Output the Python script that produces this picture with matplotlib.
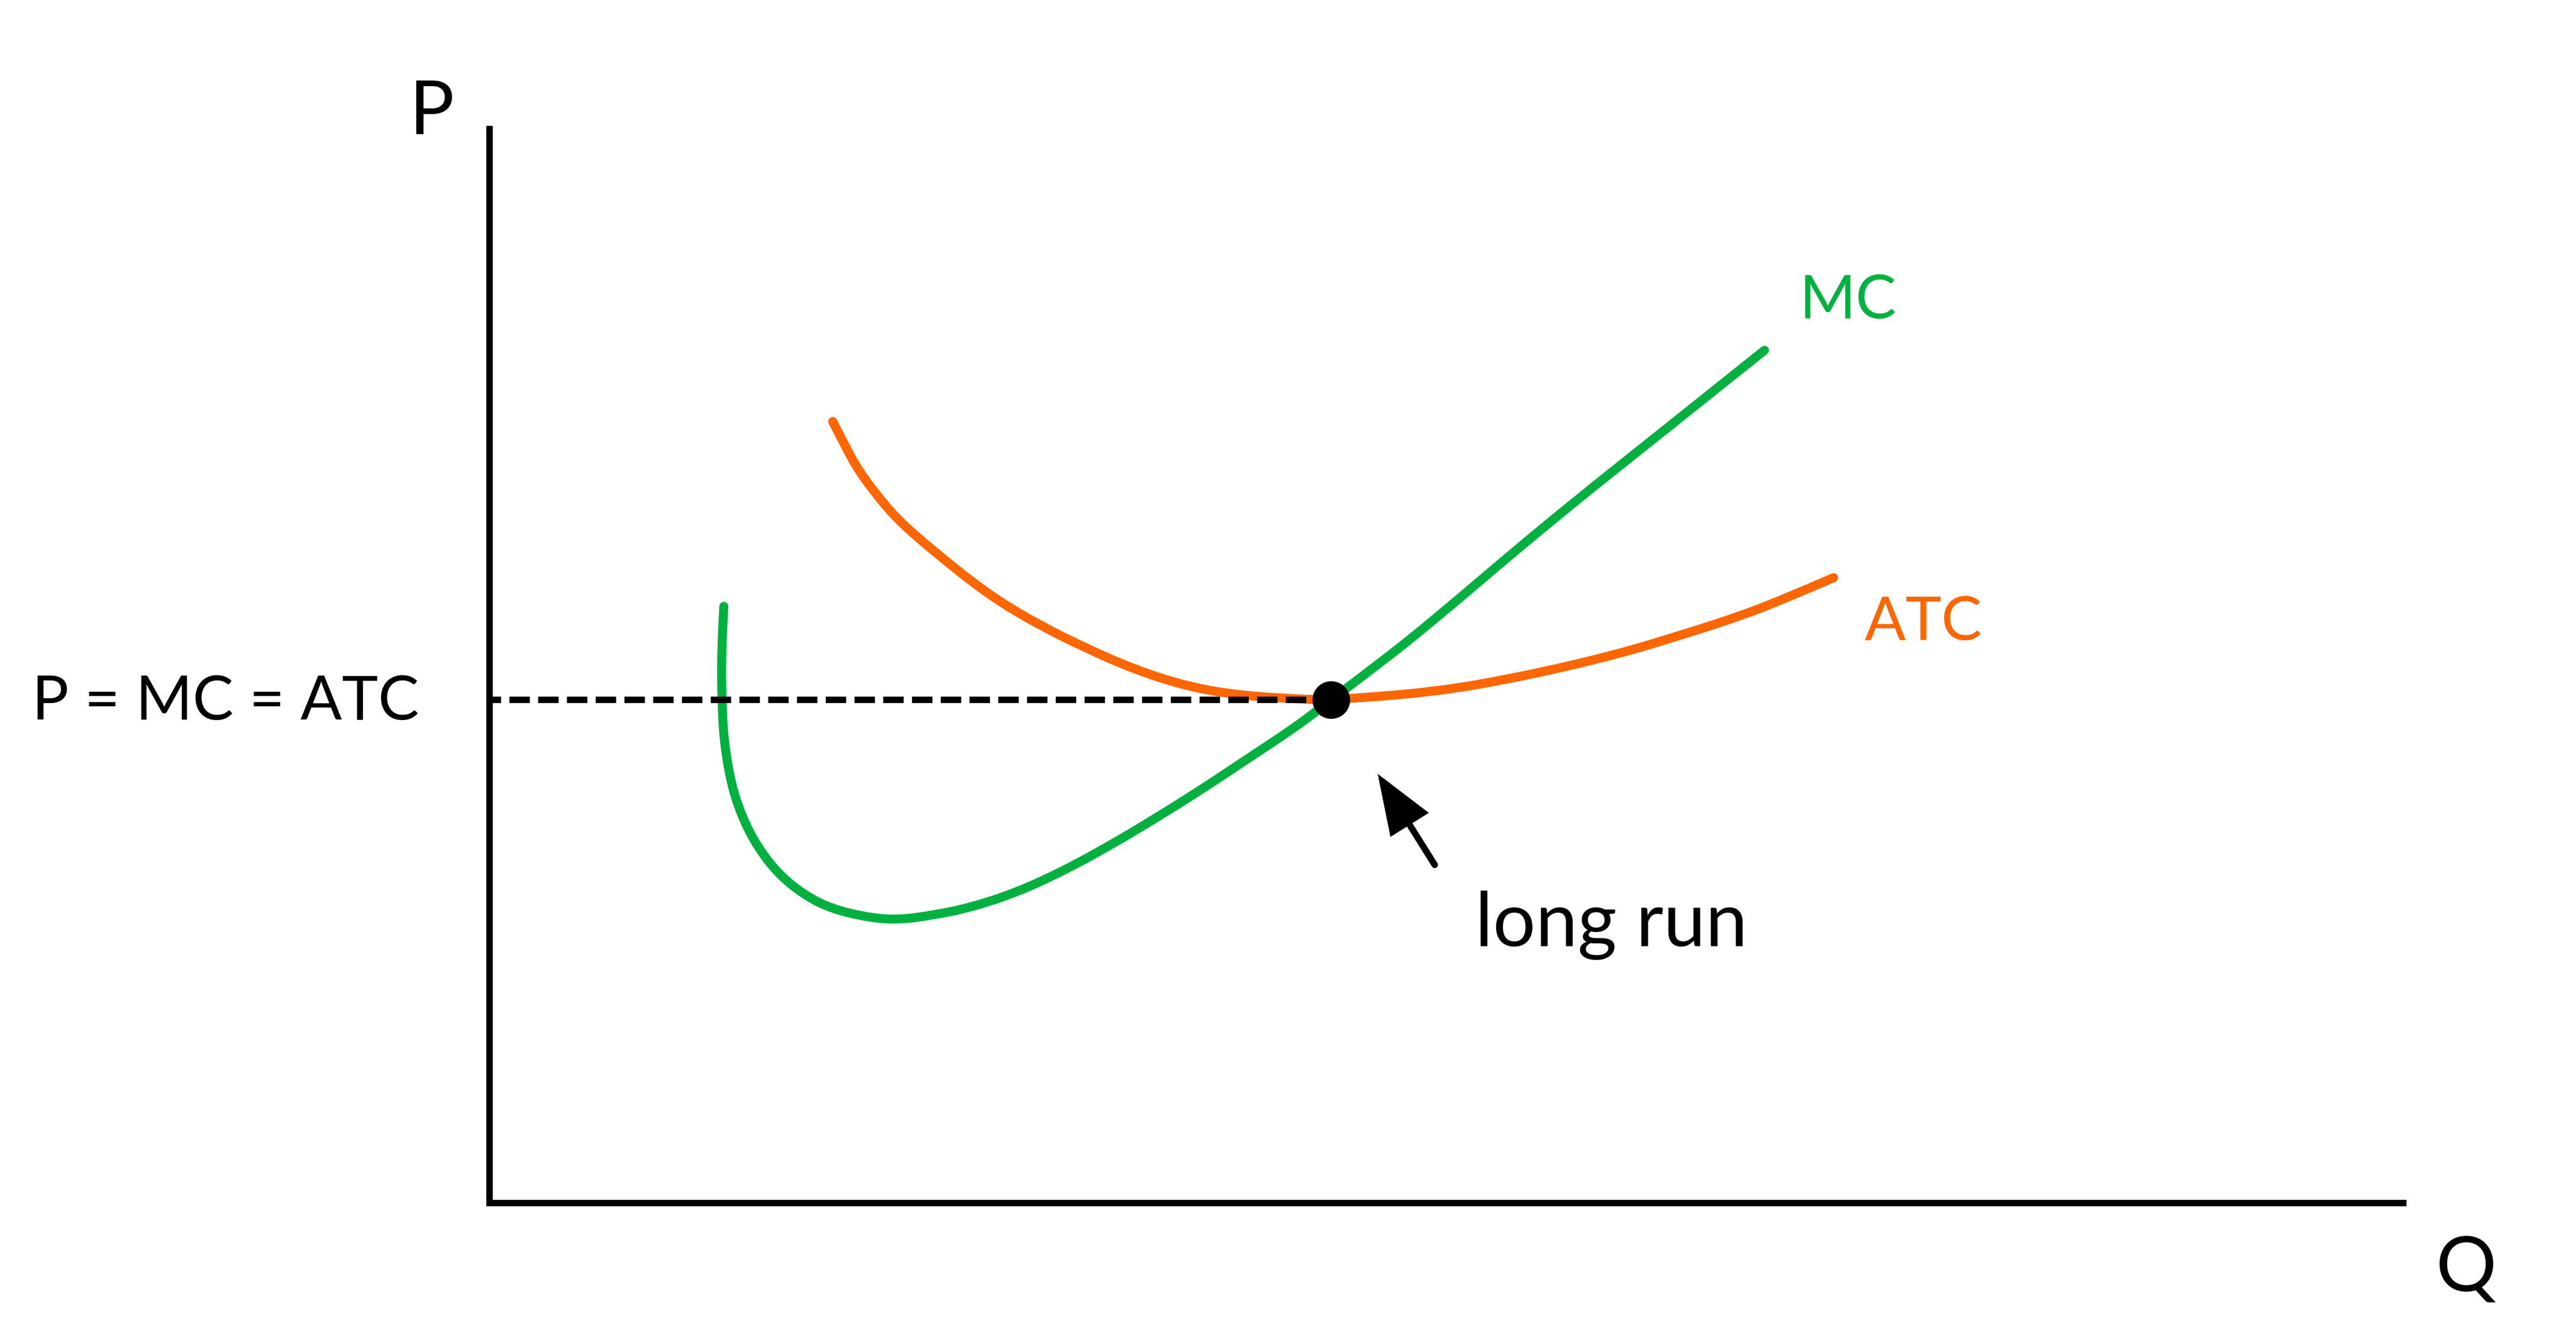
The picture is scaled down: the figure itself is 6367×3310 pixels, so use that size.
import matplotlib
matplotlib.use("Agg")
import matplotlib.pyplot as plt
from matplotlib.path import Path
from matplotlib.patches import PathPatch

plt.rcParams['font.family'] = ['Lato', 'DejaVu Sans']

# ---- data (arbitrary units, Q and P both on 0..10 axes) ----
mc_q = [1.224, 1.211, 1.214, 1.224, 1.262, 1.319, 1.395, 1.507, 1.649, 1.791,
        1.979, 2.131, 2.311, 2.516, 2.759, 3.002, 3.243, 3.486, 3.729, 3.973,
        4.216, 4.397, 4.630, 4.892, 5.520, 6.114, 6.662]
mc_p = [5.556, 5.126, 4.685, 4.313, 3.902, 3.597, 3.330, 3.066, 2.863, 2.738,
        2.659, 2.637, 2.678, 2.753, 2.896, 3.096, 3.330, 3.589, 3.861, 4.151,
        4.437, 4.685, 4.998, 5.363, 6.316, 7.160, 7.940]

atc_q = [1.793, 1.869, 1.934, 2.019, 2.114, 2.237, 2.378, 2.520, 2.681, 2.877,
         3.106, 3.370, 3.653, 3.934, 4.313, 4.397, 4.939, 5.412, 5.884, 6.260,
         6.533, 6.748, 7.023]
atc_p = [7.277, 7.009, 6.806, 6.603, 6.399, 6.196, 5.989, 5.785, 5.582, 5.379,
         5.175, 4.968, 4.806, 4.723, 4.685, 4.685, 4.757, 4.908, 5.104, 5.307,
         5.465, 5.612, 5.823]

eq_q = 4.397
eq_p = 4.685

arrow_tail = (4.939, 3.149)
arrow_tip = (4.641, 3.996)

axis_labels = ['P', 'Q']
curve_labels = ['MC', 'ATC']
price_label = 'P = MC = ATC'
note_label = 'long run'

GREEN = '#00B140'
ORANGE = '#FF6600'


def smooth_path(xs, ys):
    """Quadratic-Bezier path using the read points as control points."""
    pts = list(zip(xs, ys))
    verts = [pts[0]]
    codes = [Path.MOVETO]
    n = len(pts)
    for i in range(1, n - 1):
        if i < n - 2:
            end = ((pts[i][0] + pts[i + 1][0]) / 2, (pts[i][1] + pts[i + 1][1]) / 2)
        else:
            end = pts[n - 1]
        verts += [pts[i], end]
        codes += [Path.CURVE3, Path.CURVE3]
    return Path(verts, codes)


fig = plt.figure(figsize=(63.67, 33.10), dpi=100)
ax = fig.add_axes([0.19004, 0.10151, 0.74290, 0.80211])
ax.set_xlim(0, 10)
ax.set_ylim(0, 10)
for s in ['top', 'right']:
    ax.spines[s].set_visible(False)
for s in ['left', 'bottom']:
    ax.spines[s].set_linewidth(11.5)
    ax.spines[s].set_color('black')
ax.set_xticks([])
ax.set_yticks([])

for xs, ys, col in [(atc_q, atc_p, ORANGE), (mc_q, mc_p, GREEN)]:
    patch = PathPatch(smooth_path(xs, ys), fill=False, edgecolor=col, lw=16,
                      capstyle='round', joinstyle='round', zorder=3,
                      transform=ax.transData)
    patch.set_clip_on(False)
    ax.add_patch(patch)

ax.plot([0, eq_q], [eq_p, eq_p], color='black', lw=11.5,
        ls=(1.375, (3.16, 1.29)), zorder=4, clip_on=False)
ax.plot([eq_q], [eq_p], 'o', color='black', ms=66, zorder=5, clip_on=False)

ax.annotate('', xy=arrow_tip, xytext=arrow_tail,
            arrowprops=dict(arrowstyle='-|>,head_length=85,head_width=32',
                            mutation_scale=1, lw=11.5, color='black',
                            shrinkA=0, shrinkB=0, capstyle='round',
                            joinstyle='miter'),
            zorder=5)

ax.text(-0.368, 4.501, price_label, ha='right', va='baseline', fontsize=109,
        color='black')
ax.text(-0.421, 9.958, axis_labels[0], ha='left', va='baseline', fontsize=133,
        color='black')
ax.text(10.169, -0.821, axis_labels[1], ha='left', va='baseline', fontsize=135,
        color='black')
ax.text(6.844, 8.237, curve_labels[0], ha='left', va='baseline', fontsize=108,
        color=GREEN)
ax.text(7.186, 5.243, curve_labels[1], ha='left', va='baseline', fontsize=108,
        color=ORANGE)
ax.text(5.150, 2.392, note_label, ha='left', va='baseline', fontsize=134,
        color='black')

fig.savefig('out.png', dpi=100, facecolor='white')
